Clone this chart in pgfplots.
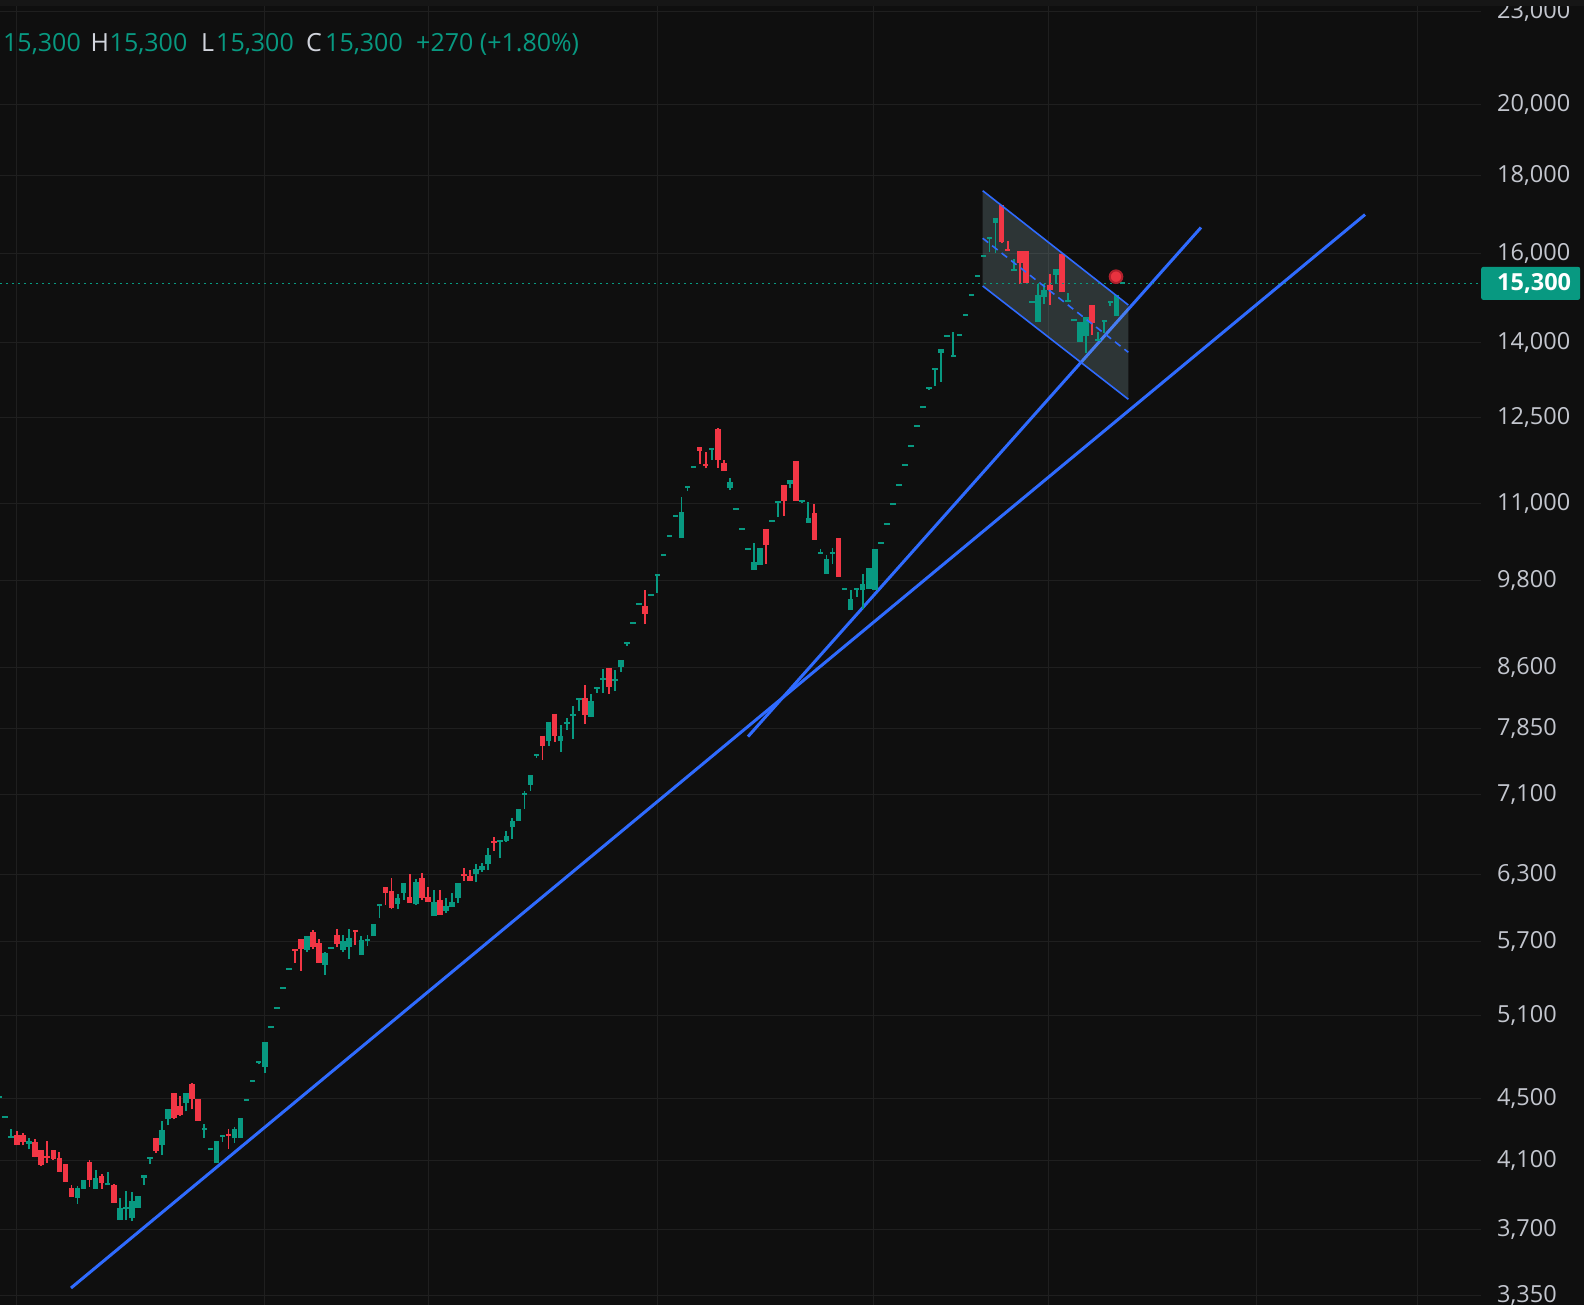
\documentclass[border=0pt]{standalone}
\usepackage{pgfplots}
\pgfplotsset{compat=1.18}
\usepackage{pgfplotstable}
\usepackage{fontspec}
\setmainfont{Open Sans}

\definecolor{bg}{HTML}{0F0F0F}
\definecolor{topband}{HTML}{161616}
\definecolor{gridc}{HTML}{1F1F1F}
\definecolor{tvgreen}{HTML}{089981}
\definecolor{tvred}{HTML}{F23645}
\definecolor{tvblue}{HTML}{2F6BFF}
\definecolor{lblgray}{HTML}{C3C6CE}
\definecolor{hdrgray}{HTML}{D1D4DC}
\definecolor{chfill}{HTML}{9CC0C4}
\definecolor{dotred}{HTML}{E8323F}
\definecolor{dotring}{HTML}{B0202C}
\definecolor{dotyellow}{HTML}{F5C518}

% daily candles: open high low close (row index = bar number)
\pgfplotstableread{
o h l c
4506 4520 4506 4520
4373 4386 4373 4386
4244 4299 4244 4257
4260 4290 4195 4195
4260 4275 4195 4215
4207 4240 4170 4220
4216 4238 4120 4120
4166 4166 4068 4073
4130 4223 4088 4118
4166 4166 4105 4109
4117 4154 4033 4033
4077 4080 3971 3971
3934 3952 3883 3883
3880 3945 3844 3934
3930 3981 3930 3981
4092 4104 3942 3981
3930 4042 3930 3993
4005 4017 3930 3965
3955 4030 3952 3967
3954 3962 3848 3848
3750 3876 3750 3819
3811 3917 3750 3823
3764 3911 3744 3859
3819 3888 3819 3888
3998 4010 3954 4010
4113 4125 4079 4125
4241 4241 4150 4162
4198 4351 4137 4293
4362 4430 4325 4428
4536 4536 4362 4368
4450 4518 4385 4390
4472 4536 4415 4536
4600 4605 4428 4495
4495 4495 4354 4354
4295 4331 4243 4308
4164 4176 4164 4176
4084 4223 4084 4223
4251 4264 4218 4264
4270 4299 4172 4257
4239 4312 4212 4299
4243 4374 4243 4374
4484 4497 4484 4497
4616 4630 4616 4630
4745 4759 4738 4759
4720 4900 4680 4900
5006 5021 5006 5021
5151 5167 5151 5167
5309 5325 5309 5325
5462 5478 5462 5478
5635 5635 5519 5618
5718 5722 5454 5630
5624 5744 5607 5744
5779 5796 5633 5647
5683 5718 5519 5519
5500 5607 5418 5599
5636 5653 5636 5653
5753 5805 5647 5675
5624 5753 5607 5701
5650 5805 5549 5727
5800 5800 5667 5783
5582 5744 5582 5709
5700 5753 5658 5717
5744 5848 5744 5848
6005 6023 5901 6023
6181 6181 6017 6129
6144 6265 5978 5987
6026 6117 5981 6080
6126 6218 6062 6218
6089 6303 6035 6035
6026 6256 6017 6228
6265 6312 6062 6080
6089 6181 6044 6044
5918 6153 5918 6044
6062 6153 5927 5927
5963 6080 5945 6008
5999 6126 5999 6044
6080 6218 6035 6218
6303 6360 6237 6284
6284 6341 6237 6237
6303 6398 6228 6350
6343 6410 6324 6381
6400 6556 6343 6488
6625 6665 6527 6605
6612 6630 6459 6632
6625 6725 6615 6675
6767 6859 6645 6828
6828 6953 6828 6953
7103 7145 6953 7124
7209 7318 7145 7318
7525 7545 7510 7545
7759 7759 7483 7643
7701 7924 7643 7924
8020 8020 7689 7759
7701 7889 7572 7759
7900 7972 7830 7924
7996 8117 7724 8020
8181 8205 8056 8205
8205 8378 7900 8008
7984 8266 7984 8168
8328 8353 8278 8353
8437 8575 8278 8462
8588 8590 8266 8353
8422 8562 8303 8447
8601 8693 8537 8693
8908 8935 8882 8935
9176 9204 9176 9204
9442 9470 9442 9470
9423 9655 9176 9315
9576 9604 9576 9604
9862 9891 9617 9891
10162 10192 10162 10192
10457 10489 10457 10489
10776 10808 10776 10808
10446 11098 10446 10852
11252 11286 11207 11286
11602 11636 11602 11636
11963 11963 11669 11904
11662 11880 11588 11627
11921 11957 11739 11957
12295 12313 11600 11739
11686 11739 11548 11548
11259 11424 11220 11355
10888 10920 10888 10920
10571 10603 10571 10603
10260 10290 10260 10290
9956 10364 9956 10070
10030 10285 10030 10285
10583 10583 10045 10336
10700 10732 10700 10732
11004 11037 10779 11037
11303 11303 10795 11037
11320 11389 11259 11389
11722 11722 11037 11037
11015 11060 11000 11048
10682 11015 10682 10763
10836 10982 10414 10414
10196 10270 10193 10227
9895 10176 9895 10115
10196 10285 10045 10227
10440 10440 9846 9846
9655 9684 9655 9684
9368 9655 9368 9524
9660 9689 9558 9689
9655 9889 9382 9742
9669 9980 9669 9980
9655 10270 9655 10270
10348 10380 10348 10380
10645 10677 10645 10677
10970 11002 10970 11002
11287 11321 11287 11321
11633 11667 11633 11667
11972 12008 11972 12008
12332 12369 12332 12369
12693 12731 12693 12731
13059 13098 13046 13098
13439 13479 13118 13479
13786 13855 13196 13855
14120 14162 14120 14162
13696 14218 13696 13737
14141 14183 14141 14183
14574 14618 14574 14618
15018 15062 15018 15062
15452 15498 15452 15498
15923 15971 15923 15971
16361 16410 16045 16410
16760 16869 16005 16869
17210 17210 16247 16288
16100 16304 16052 16052
15590 15870 15590 15636
16061 16061 15290 15784
16061 16061 15305 15305
14862 14906 14862 14906
14434 15290 14434 15032
14994 15290 14830 15145
15267 15520 14808 15145
15496 15628 15290 15628
15990 15990 15100 15100
14882 15077 14882 14926
14452 14496 14452 14496
14005 14448 14005 14448
14131 14554 13776 14554
14808 14808 14153 14405
14026 14226 14026 14068
14448 14491 14205 14491
14860 14904 14793 14904
14575 15030 14575 15030
15280 15320 15280 15320
}\candles

\begin{document}%
\begin{tikzpicture}[x=1pt,y=1pt]
% build the wick and body segments from the table
\pgfplotstablegetrowsof{\candles}
\pgfmathtruncatemacro\lastrow{\pgfplotsretval-1}
\def\gw{}\def\gb{}\def\rw{}\def\rb{}
\pgfplotsforeachungrouped \ri in {0,...,\lastrow}{%
  \pgfplotstablegetelem{\ri}{o}\of\candles\let\cO\pgfplotsretval
  \pgfplotstablegetelem{\ri}{h}\of\candles\let\cH\pgfplotsretval
  \pgfplotstablegetelem{\ri}{l}\of\candles\let\cL\pgfplotsretval
  \pgfplotstablegetelem{\ri}{c}\of\candles\let\cC\pgfplotsretval
  \ifnum\cC<\cO\relax
    \edef\rw{\rw(\ri,\cL)(\ri,\cH)(\ri,nan)}%
    \edef\rb{\rb(\ri,\cO)(\ri,\cC)(\ri,nan)}%
  \else
    \edef\gw{\gw(\ri,\cL)(\ri,\cH)(\ri,nan)}%
    \edef\gb{\gb(\ri,\cO)(\ri,\cC)(\ri,nan)}%
  \fi
}%
\fill[bg] (0,0) rectangle (1584,1305);
\begin{axis}[
  at={(0,0)}, anchor=south west,
  scale only axis, width=1481pt, height=1305pt,
  ymode=log, ymin=3302, ymax=23411,
  xmin=0.172, xmax=245.37,
  axis line style={draw=none},
  major tick length=0pt, minor tick length=0pt,
  xtick={2.94,44.04,71.08,109.11,144.87,173.84,208.28,234.89},
  xticklabels={},
  ytick={3350,3700,4100,4500,5100,5700,6300,7100,7850,8600,9800,11000,12500,14000,16000,18000,20000,23000},
  yticklabels={{3,350},{3,700},{4,100},{4,500},{5,100},{5,700},{6,300},{7,100},{7,850},{8,600},{9,800},{11,000},{12,500},{14,000},{16,000},{18,000},{20,000},{23,000}},
  yticklabel pos=right,
  yticklabel style={anchor=west, inner xsep=16pt, font=\fontsize{23.5}{28}\selectfont, text=lblgray},
  xmajorgrids, ymajorgrids,
  grid style={draw=gridc, line width=1pt},
  extra y ticks={15300},
  extra y tick labels={\hspace*{16pt}\textbf{15,300}\hspace*{9pt}},
  extra y tick style={grid=none, yticklabel style={fill=tvgreen, text=white, inner xsep=0pt, minimum height=33pt, rounded corners=2pt}},
  unbounded coords=jump,
  clip=true,
]
% trend lines
\addplot[tvblue, line width=3pt, forget plot] coordinates {(11.93,3387) (226.17,16963)};
\addplot[tvblue, line width=3pt, forget plot] coordinates {(124.01,7750) (199.01,16638)};
% channel background
\addplot[draw=none, fill=chfill, fill opacity=0.22, forget plot] coordinates {(162.87,17583) (186.98,14811) (186.98,12856) (162.87,15240) (162.87,17583)};
% candles
\edef\tmp{\noexpand\addplot[tvgreen, line width=1.8pt, forget plot] coordinates {\gw};}\tmp
\edef\tmp{\noexpand\addplot[tvred, line width=1.8pt, forget plot] coordinates {\rw};}\tmp
\edef\tmp{\noexpand\addplot[tvgreen, line width=5.6pt, line cap=butt, forget plot] coordinates {\gb};}\tmp
\edef\tmp{\noexpand\addplot[tvred, line width=5.6pt, line cap=butt, forget plot] coordinates {\rb};}\tmp
% channel borders
\addplot[tvblue, line width=1.6pt, forget plot] coordinates {(162.87,17583) (186.98,14811)};
\addplot[tvblue, line width=1.6pt, forget plot] coordinates {(162.87,15240) (186.98,12856)};
\addplot[tvblue, line width=1.6pt, dash pattern=on 7pt off 5pt, forget plot] coordinates {(162.87,16371) (186.98,13796)};
% last price line
\addplot[tvgreen, line width=1.5pt, dash pattern=on 1.5pt off 4.5pt, forget plot] coordinates {(0.172,15300) (245.37,15300)};
% event dots
\addplot[only marks, mark=*, mark size=6.3pt, mark options={fill=dotred, draw=dotring, line width=2pt}, forget plot] coordinates {(184.94,15454)};
\addplot[only marks, mark=*, mark size=7pt, mark options={fill=dotyellow, draw=dotyellow}, forget plot] coordinates {(0,4644)};
\end{axis}
% thin top band of the chart window
\fill[topband] (0,1299) rectangle (1584,1305);
% legend line at the top
\begin{scope}[font=\fontsize{25}{30}\selectfont]
\node[anchor=base west, inner sep=0, text=tvgreen] at (3,1253) {15,300};
\node[anchor=base west, inner sep=0, text=hdrgray] at (90.5,1253) {H};
\node[anchor=base west, inner sep=0, text=tvgreen] at (109.5,1253) {15,300};
\node[anchor=base west, inner sep=0, text=hdrgray] at (201,1253) {L};
\node[anchor=base west, inner sep=0, text=tvgreen] at (216,1253) {15,300};
\node[anchor=base west, inner sep=0, text=hdrgray] at (306,1253) {C};
\node[anchor=base west, inner sep=0, text=tvgreen] at (325,1253) {15,300};
\node[anchor=base west, inner sep=0, text=tvgreen] at (416,1253) {+270 (+1.80\%)};
\end{scope}
\pgfresetboundingbox
\useasboundingbox (0,0) rectangle (1584,1305);
\end{tikzpicture}%
\end{document}
